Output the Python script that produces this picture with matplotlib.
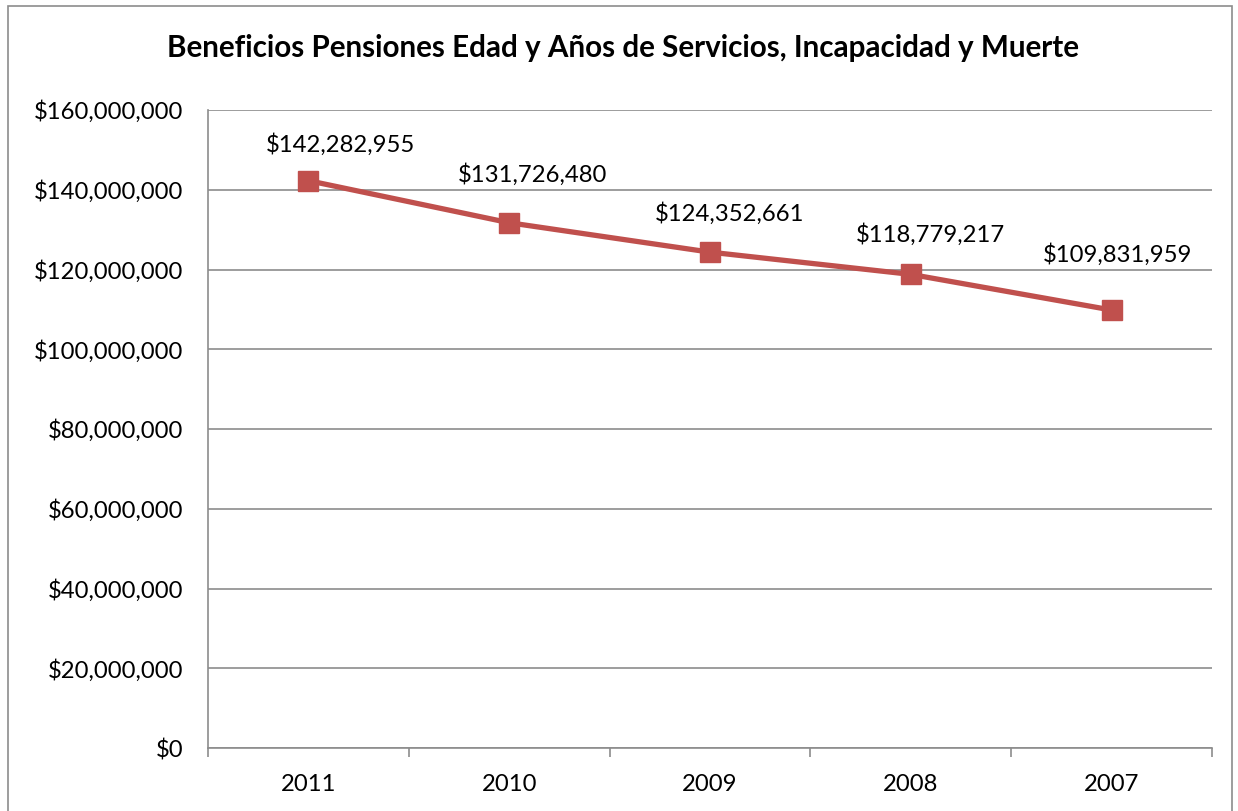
import matplotlib.pyplot as plt
from matplotlib.patches import Rectangle

years = ["2011", "2010", "2009", "2008", "2007"]
values = [142282955, 131726480, 124352661, 118779217, 109831959]
yticks = [0, 20000000, 40000000, 60000000, 80000000, 100000000, 120000000, 140000000, 160000000]

# label offsets (points) as placed in the original
label_dx = [23, 17, 14, 14, 4]
label_dy = [26, 35, 28, 29, 40]

plt.rcParams['font.family'] = ['Lato', 'DejaVu Sans']

fig = plt.figure(figsize=(12.38, 8.11), dpi=100)
fig.patches.append(Rectangle((8/1238, -0.01), 1224/1238, 1 - 6/811 + 0.01, transform=fig.transFigure,
                             fill=False, edgecolor='#8c8c8c', linewidth=1.2))
ax = fig.add_axes([208/1238, 63/811, 1004/1238, 638/811])

x = list(range(len(years)))
ax.plot(x, values, color='#C0504D', linewidth=3.8, marker='s', markersize=14, zorder=3)
for xi, v, dx, dy in zip(x, values, label_dx, label_dy):
    ax.annotate(f"${v:,.0f}", (xi, v), xytext=(dx, dy), textcoords='offset points',
                ha='center', va='center', fontsize=17.2)

ax.set_xlim(-0.5, 4.5)
ax.set_ylim(0, 160000000)
ax.set_yticks(yticks)
ax.set_yticklabels([f"${t:,.0f}" for t in yticks], fontsize=17.2)
ax.set_xticks(x)
ax.set_xticklabels(years, fontsize=17.2)
ax.set_xticks([i - 0.5 for i in range(len(years) + 1)], minor=True)
ax.tick_params(axis='x', which='major', length=0, pad=19)
ax.tick_params(axis='x', which='minor', length=6.5, color='#8c8c8c', width=1.2)
ax.tick_params(axis='y', length=0, pad=18)
ax.grid(axis='y', color='#8c8c8c', linewidth=1.2)
ax.set_axisbelow(True)
for s in ['top', 'right']:
    ax.spines[s].set_visible(False)
for s in ['left', 'bottom']:
    ax.spines[s].set_color('#8c8c8c')
    ax.spines[s].set_linewidth(1.2)

fig.text(0.503, 1 - 48/811, "Beneficios Pensiones Edad y Años de Servicios, Incapacidad y Muerte",
         ha='center', va='center', fontsize=21.3, fontweight='bold')

fig.savefig("out.png", dpi=100)
